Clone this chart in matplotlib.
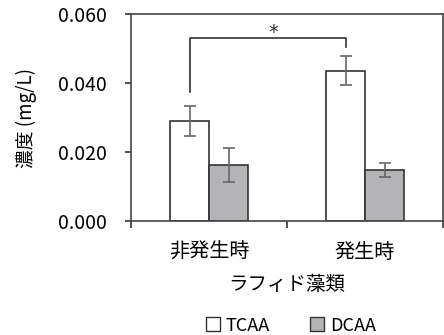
import numpy as np
import matplotlib
matplotlib.use("Agg")
from matplotlib import pyplot as plt
from matplotlib.patches import Patch

plt.rcParams['font.family'] = ['Noto Sans CJK JP', 'DejaVu Sans']

categories = ["非発生時", "発生時"]
tcaa = [0.0291, 0.0436]
tcaa_err = [0.0044, 0.0043]
dcaa = [0.0163, 0.0147]
dcaa_err = [0.0049, 0.0020]
yticks = [0.000, 0.020, 0.040, 0.060]

fig = plt.figure(figsize=(4.44, 3.35), dpi=100)
ax = fig.add_axes([0.295, 0.340, 0.703, 0.618])

x = np.arange(len(categories))
w = 0.25
edge = "#333333"
ekw = dict(ecolor="#666666", elinewidth=1.2, capsize=4, capthick=1.2)
ax.bar(x - w / 2, tcaa, w, yerr=tcaa_err, color="white", edgecolor=edge,
       linewidth=1.2, error_kw=ekw, label="TCAA")
ax.bar(x + w / 2, dcaa, w, yerr=dcaa_err, color="#b4b4b8", edgecolor=edge,
       linewidth=1.2, error_kw=ekw, label="DCAA")

# significance bracket
ax.plot([x[0] - w / 2, x[0] - w / 2, x[1] - w / 2, x[1] - w / 2],
        [0.0375, 0.0532, 0.0532, 0.0505], color="#333333", linewidth=1.2)
ax.text(0.41, 0.0548, "*", ha="center", va="center", fontsize=14,
        family="DejaVu Sans", color="#333333")

ax.set_xlim(-0.5, 1.5)
ax.set_ylim(0, 0.060)
ax.set_yticks(yticks)
ax.set_yticklabels([f"{v:.3f}" for v in yticks])
ax.set_xticks([-0.5, 0.5, 1.5])
ax.set_xticklabels([])
ax.set_xticks(x, minor=True)
ax.set_xticklabels(categories, minor=True)
ax.tick_params(axis="x", which="minor", length=0, pad=15, labelsize=14.5)
ax.tick_params(axis="x", which="major", length=5, width=1.2, color="#333333")
ax.tick_params(axis="y", length=4.5, width=1.2, color="#333333", labelsize=14, pad=13)
for s in ax.spines.values():
    s.set_color("#444444")
    s.set_linewidth(1.2)

ax.set_xlabel("ラフィド藻類", fontsize=14, labelpad=8)
ax.set_ylabel("濃度 (mg/L)", fontsize=13.5, labelpad=15)

handles = [Patch(facecolor="white", edgecolor=edge, label="TCAA"),
           Patch(facecolor="#b4b4b8", edgecolor=edge, label="DCAA")]
fig.legend(handles=handles, loc="center", bbox_to_anchor=(0.655, 0.028), ncol=2,
           frameon=False, fontsize=13, handlelength=0.8, handleheight=0.8,
           handletextpad=0.3, columnspacing=2.2)

fig.savefig("out.png", dpi=100)
